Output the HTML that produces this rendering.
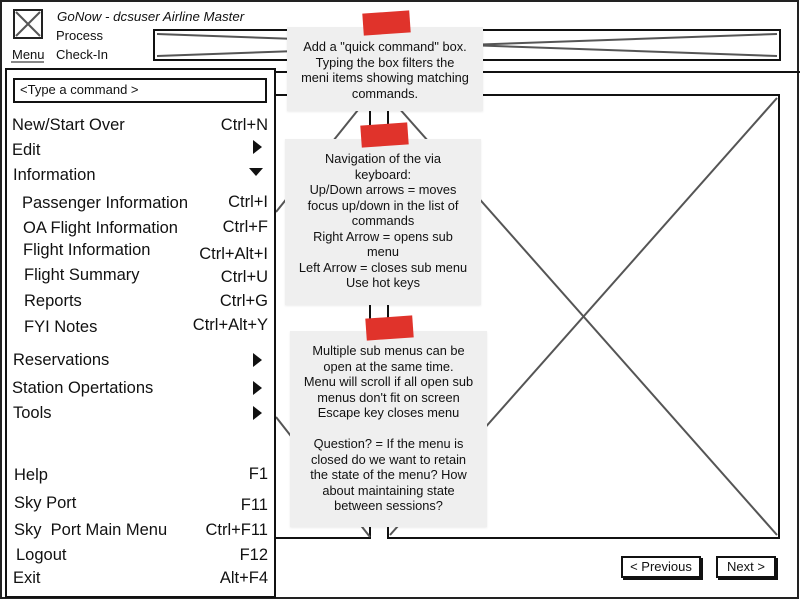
<!DOCTYPE html>
<html><head><meta charset="utf-8">
<style>
*{margin:0;padding:0;box-sizing:border-box}
body{width:800px;height:600px;overflow:hidden;background:#fff;font-family:"Liberation Sans",sans-serif;color:#111;position:relative}
.a{position:absolute;white-space:nowrap}
.m{font-size:16.5px;line-height:18px}
.r{text-align:right}
.note{position:absolute;background:#efefef;font-size:12.8px;line-height:15.5px;text-align:center;color:#111;box-shadow:0 1px 2px rgba(0,0,0,.08)}
.tape{position:absolute;background:#e0332b;transform:rotate(-4deg);height:22px;width:47px}
.btn{position:absolute;border:2px solid #111;background:#fff;font-size:13px;text-align:center;line-height:18px;box-shadow:2px 2px 0 #111}
</style></head><body>
<svg class="a" style="left:0;top:0" width="800" height="600">
<rect x="1" y="1" width="797" height="597" fill="none" stroke="#222" stroke-width="2"/>
<rect x="14" y="10" width="28" height="28" fill="none" stroke="#222" stroke-width="2"/>
<line x1="16" y1="12" x2="40" y2="36" stroke="#555" stroke-width="2"/>
<line x1="40" y1="12" x2="16" y2="36" stroke="#555" stroke-width="2"/>
<rect x="154" y="30" width="626" height="30" fill="none" stroke="#111" stroke-width="2"/>
<line x1="157" y1="34" x2="777" y2="56" stroke="#555" stroke-width="2"/>
<line x1="157" y1="56" x2="777" y2="34" stroke="#555" stroke-width="2"/>
<line x1="276" y1="72" x2="800" y2="72" stroke="#111" stroke-width="2"/>
<polyline points="276,95 370,95 370,538 276,538" fill="none" stroke="#111" stroke-width="2"/>
<line x1="370" y1="95" x2="276" y2="212" stroke="#555" stroke-width="2"/>
<line x1="276" y1="417" x2="370" y2="537" stroke="#555" stroke-width="2"/>
<rect x="388" y="95" width="391" height="443" fill="none" stroke="#111" stroke-width="2"/>
<line x1="390" y1="98" x2="777" y2="535" stroke="#555" stroke-width="2"/>
<line x1="777" y1="98" x2="390" y2="535" stroke="#555" stroke-width="2"/>
<line x1="11" y1="62" x2="44" y2="62" stroke="#111" stroke-width="1"/>
</svg>
<div class="a" style="left:57px;top:9px;font-size:13.3px;font-style:italic">GoNow - dcsuser Airline Master</div>
<div class="a" style="left:56px;top:28px;font-size:13px">Process</div>
<div class="a" style="left:56px;top:47px;font-size:13px">Check-In</div>
<div class="a" style="left:12px;top:47px;font-size:13px">Menu</div>

<div class="a" style="left:5px;top:68px;width:271px;height:530px;border:2px solid #111;background:#fff"></div>
<div class="a" style="left:13px;top:78px;width:254px;height:25px;border:2px solid #111;font-size:13px;line-height:20px;padding-left:5px">&lt;Type a command &gt;</div>

<svg class="a" style="left:0;top:0" width="290" height="600">
<polygon points="253,140 262,147 253,154" fill="#111"/>
<polygon points="249,168 263,168 256,176" fill="#111"/>
<polygon points="253,353 262,360 253,367" fill="#111"/>
<polygon points="253,381 262,388 253,395" fill="#111"/>
<polygon points="253,406 262,413 253,420" fill="#111"/>
</svg>

<div class="a m" style="left:12px;top:116px">New/Start Over</div><div class="a m r" style="right:532px;top:116px">Ctrl+N</div>
<div class="a m" style="left:12px;top:141px">Edit</div>
<div class="a m" style="left:13px;top:166px">Information</div>
<div class="a m" style="left:22px;top:194px">Passenger Information</div><div class="a m r" style="right:532px;top:193px">Ctrl+I</div>
<div class="a m" style="left:23px;top:219px">OA Flight Information</div><div class="a m r" style="right:532px;top:218px">Ctrl+F</div>
<div class="a m" style="left:23px;top:241px">Flight Information</div><div class="a m r" style="right:532px;top:245px">Ctrl+Alt+I</div>
<div class="a m" style="left:24px;top:266px">Flight Summary</div><div class="a m r" style="right:532px;top:268px">Ctrl+U</div>
<div class="a m" style="left:24px;top:292px">Reports</div><div class="a m r" style="right:532px;top:292px">Ctrl+G</div>
<div class="a m" style="left:24px;top:318px">FYI Notes</div><div class="a m r" style="right:532px;top:316px">Ctrl+Alt+Y</div>
<div class="a m" style="left:13px;top:351px">Reservations</div>
<div class="a m" style="left:12px;top:379px">Station Opertations</div>
<div class="a m" style="left:13px;top:404px">Tools</div>
<div class="a m" style="left:14px;top:466px">Help</div><div class="a m r" style="right:532px;top:465px">F1</div>
<div class="a m" style="left:14px;top:494px">Sky Port</div><div class="a m r" style="right:532px;top:496px">F11</div>
<div class="a m" style="left:14px;top:521px">Sky&nbsp; Port Main Menu</div><div class="a m r" style="right:532px;top:521px">Ctrl+F11</div>
<div class="a m" style="left:16px;top:546px">Logout</div><div class="a m r" style="right:532px;top:546px">F12</div>
<div class="a m" style="left:13px;top:569px">Exit</div><div class="a m r" style="right:532px;top:569px">Alt+F4</div>

<div class="note" style="left:287px;top:27px;width:196px;height:84px;padding-top:12px">Add a "quick command" box.<br>Typing the box filters the<br>meni items showing matching<br>commands.</div>
<div class="tape" style="left:363px;top:12px"></div>

<div class="note" style="left:285px;top:139px;width:196px;height:166px;padding-top:12px">Navigation of the via<br>keyboard:<br>Up/Down arrows = moves<br>focus up/down in the list of<br>commands<br>Right Arrow = opens sub<br>menu<br>Left Arrow = closes sub menu<br>Use hot keys</div>
<div class="tape" style="left:361px;top:124px"></div>

<div class="note" style="left:290px;top:331px;width:197px;height:196px;padding-top:12px">Multiple sub menus can be<br>open at the same time.<br>Menu will scroll if all open sub<br>menus don't fit on screen<br>Escape key closes menu<br><br>Question? = If the menu is<br>closed do we want to retain<br>the state of the menu? How<br>about maintaining state<br>between sessions?</div>
<div class="tape" style="left:366px;top:317px"></div>

<div class="btn" style="left:621px;top:556px;width:80px;height:22px">&lt; Previous</div>
<div class="btn" style="left:716px;top:556px;width:60px;height:22px">Next &gt;</div>
</body></html>
